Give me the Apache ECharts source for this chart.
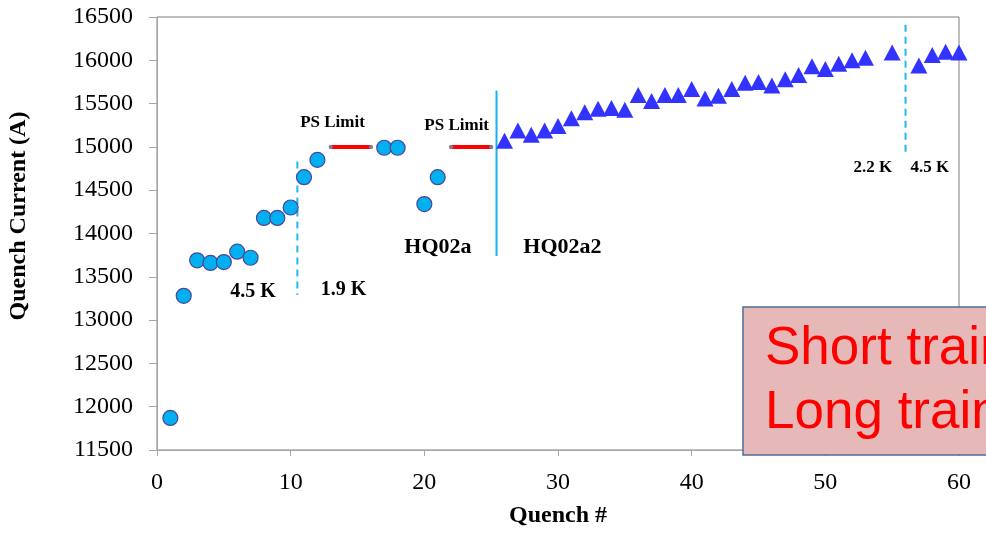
<!DOCTYPE html>
<html>
<head>
<meta charset="utf-8">
<title>HQ02 quench training</title>
<script src="https://cdn.jsdelivr.net/npm/echarts@6/dist/echarts.min.js"></script>
<style>
  html, body { margin: 0; padding: 0; background: #fff; }
  #chart { width: 986px; height: 533px; }
</style>
</head>
<body>
<div id="chart"></div>
<script>
// HQ02a quench history (circles)
const hq02aQuench = [1, 2, 3, 4, 5, 6, 7, 8, 9, 10, 11, 12, 17, 18, 20, 21];
const hq02aCurrent = [11870, 13280, 13690, 13660, 13670, 13790, 13720, 14180, 14180, 14300, 14650, 14850, 14990, 14990, 14340, 14650];

// HQ02a2 quench history (triangles)
const hq02a2Quench = [26, 27, 28, 29, 30, 31, 32, 33, 34, 35, 36, 37, 38, 39, 40, 41, 42, 43, 44, 45, 46, 47, 48, 49, 50, 51, 52, 53, 55, 57, 58, 59, 60];
const hq02a2Current = [15070, 15190, 15140, 15190, 15240, 15330, 15400, 15440, 15450, 15430, 15600, 15530, 15600, 15600, 15670, 15560, 15590, 15670, 15740, 15750, 15710, 15780, 15830, 15930, 15900, 15960, 16000, 16030, 16090, 15940, 16060, 16100, 16090];

// Power-supply limit segments: [from quench, to quench, current]
const psLimitFrom = [13, 22];
const psLimitTo = [16, 25];
const psLimitCurrent = 15000;

// Temperature change markers (dashed) and magnet change marker (solid)
const tempChangeAt = [10.5, 56];
const tempChangeTop = [14830, 16410];
const tempChangeBottom = [13290, 14890];
const magnetChangeAt = 25.4;
const magnetChangeTop = 15650;
const magnetChangeBottom = 13740;

// Axis ranges and ticks
const xMin = 0, xMax = 60, xStep = 10;
const yMin = 11500, yMax = 16500, yStep = 500;

// Annotations placed in data coordinates
const noteText = ['PS Limit', 'PS Limit', '4.5 K', '1.9 K', 'HQ02a', 'HQ02a2', '2.2 K', '4.5 K'];
const noteX = [13.13, 22.42, 7.18, 13.95, 21.02, 30.33, 53.55, 57.82];
const noteY = [15275, 15244, 13324, 13347, 13839, 13839, 14757, 14760];
const noteSize = [17, 17, 20, 20, 22, 22, 17, 17];

const boxLines = ['Short train', 'Long train'];

const serif = '"Liberation Serif", "Times New Roman", serif';
const chart = echarts.init(document.getElementById('chart'), null, { renderer: 'canvas' });

const series = [];

tempChangeAt.forEach((x, i) => {
  series.push({
    type: 'line',
    data: [[x, tempChangeTop[i]], [x, tempChangeBottom[i]]],
    showSymbol: false,
    symbol: 'none',
    silent: true,
    lineStyle: { color: '#20B8EE', width: 2, type: [7, 5] },
    z: 2
  });
});

series.push({
  type: 'line',
  data: [[magnetChangeAt, magnetChangeTop], [magnetChangeAt, magnetChangeBottom]],
  symbol: 'none',
  silent: true,
  lineStyle: { color: '#12B2F0', width: 2 },
  z: 2
});

psLimitFrom.forEach((x0, i) => {
  series.push({
    type: 'line',
    data: [[x0, psLimitCurrent], [psLimitTo[i], psLimitCurrent]],
    symbol: 'circle',
    symbolSize: 4,
    showSymbol: true,
    silent: true,
    itemStyle: { color: '#8080A0', opacity: 1 },
    lineStyle: { color: '#FF0000', width: 4, cap: 'round' },
    z: 3
  });
});

series.push({
  name: 'HQ02a',
  type: 'scatter',
  data: hq02aQuench.map((q, i) => [q, hq02aCurrent[i]]),
  symbol: 'circle',
  symbolSize: 15,
  itemStyle: { color: '#00B0F0', borderColor: '#4D4596', borderWidth: 1.2, opacity: 1 },
  z: 4
});

series.push({
  name: 'HQ02a2',
  type: 'scatter',
  data: hq02a2Quench.map((q, i) => [q, hq02a2Current[i]]),
  symbol: 'triangle',
  symbolSize: [17, 16],
  itemStyle: { color: '#3333FF', opacity: 1 },
  z: 4
});

series.push({
  type: 'scatter',
  silent: true,
  symbolSize: 0,
  itemStyle: { opacity: 1 },
  data: noteText.map((t, i) => ({
    value: [noteX[i], noteY[i]],
    label: {
      show: true,
      position: 'inside',
      formatter: t,
      color: '#000',
      textBorderWidth: 0,
      fontFamily: serif,
      fontWeight: 'bold',
      fontSize: noteSize[i]
    }
  })),
  z: 5
});

chart.setOption({
  animation: false,
  backgroundColor: '#ffffff',
  grid: {
    left: 157, right: 27, top: 17, bottom: 82,
    show: true, borderColor: '#7f7f7f', borderWidth: 1, backgroundColor: 'transparent'
  },
  xAxis: {
    type: 'value',
    min: xMin, max: xMax, interval: xStep,
    name: 'Quench #',
    nameLocation: 'middle',
    nameGap: 54,
    nameTextStyle: { fontFamily: serif, fontWeight: 'bold', fontSize: 24, color: '#000' },
    axisLine: { show: true, lineStyle: { color: '#A6A6A6', width: 1 } },
    axisTick: { show: true, inside: false, length: 6, lineStyle: { color: '#A6A6A6' } },
    axisLabel: { margin: 21, fontFamily: serif, fontSize: 24, color: '#000', formatter: v => String(v) },
    splitLine: { show: false }
  },
  yAxis: {
    type: 'value',
    min: yMin, max: yMax, interval: yStep,
    axisLine: { show: true, lineStyle: { color: '#A6A6A6', width: 1 } },
    axisTick: { show: true, inside: false, length: 8, lineStyle: { color: '#A6A6A6' } },
    axisLabel: { margin: 24, fontFamily: serif, fontSize: 24, color: '#000', formatter: v => String(v) },
    splitLine: { show: false }
  },
  graphic: [
    {
      type: 'text',
      x: 18.5, y: 216,
      rotation: Math.PI / 2,
      style: {
        text: 'Quench Current (A)',
        font: 'bold 24px ' + serif,
        fill: '#000',
        align: 'center',
        verticalAlign: 'middle'
      }
    },
    {
      type: 'rect',
      z: 100,
      shape: { x: 743, y: 307, width: 260, height: 148 },
      style: { fill: '#E6B9B8', stroke: '#4F6B99', lineWidth: 1.5 }
    },
    {
      type: 'text',
      z: 101,
      x: 765, y: 349,
      style: {
        text: boxLines[0],
        font: '53px "Liberation Sans", Arial, sans-serif',
        fill: '#FF0000',
        align: 'left',
        verticalAlign: 'middle'
      }
    },
    {
      type: 'text',
      z: 101,
      x: 765, y: 413,
      style: {
        text: boxLines[1],
        font: '53px "Liberation Sans", Arial, sans-serif',
        fill: '#FF0000',
        align: 'left',
        verticalAlign: 'middle'
      }
    }
  ],
  series: series
});
</script>
</body>
</html>
